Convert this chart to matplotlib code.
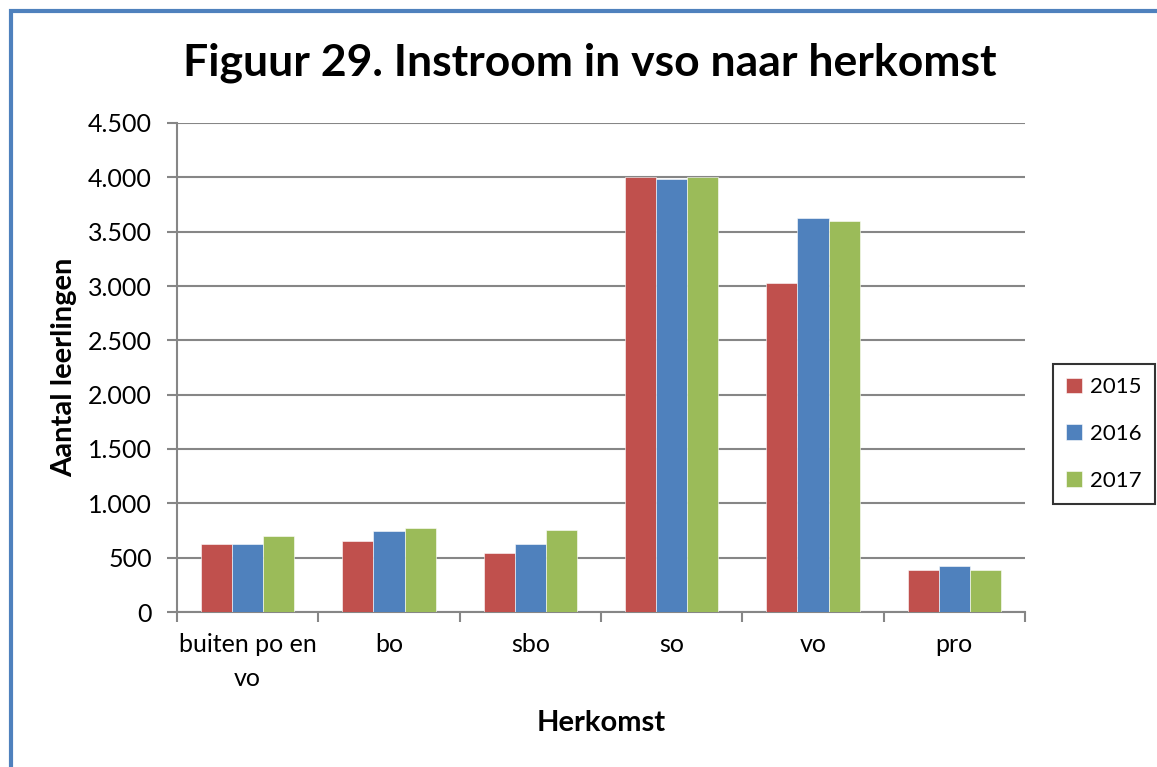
import numpy as np
import matplotlib.pyplot as plt
from matplotlib.patches import Rectangle

# data
categories = ['buiten po en\nvo', 'bo', 'sbo', 'so', 'vo', 'pro']
years = ['2015', '2016', '2017']
v2015 = [626, 653, 543, 4003, 3030, 389]
v2016 = [628, 745, 623, 3985, 3622, 420]
v2017 = [699, 776, 754, 4000, 3597, 390]
colors = ['#C0504D', '#4F81BD', '#9BBB59']

plt.rcParams['font.family'] = ['Lato', 'DejaVu Sans']

fig = plt.figure(figsize=(11.57, 7.67), dpi=100)
ax = fig.add_axes([177 / 1157, 1 - 612 / 767, 848 / 1157, 489 / 767])

# blue frame (only top and left edges visible)
fig.patches.append(Rectangle((11 / 1157, -0.1), 1.2, 1 - 11 / 767 + 0.1,
                             transform=fig.transFigure, fill=False,
                             edgecolor='#4F81BD', linewidth=3))

x = np.arange(len(categories))
w = 0.22
for i, (vals, yr) in enumerate(zip([v2015, v2016, v2017], years)):
    ax.bar(x + (i - 1) * w, vals, width=w, color=colors[i], label=yr,
           edgecolor='white', linewidth=0.4, zorder=3)

ax.set_xlim(-0.5, len(categories) - 0.5)
ax.set_ylim(0, 4500)
ax.set_yticks(np.arange(0, 4501, 500))
ax.set_yticklabels([f'{v:,}'.replace(',', '.') for v in range(0, 4501, 500)])
ax.set_xticks(x)
ax.set_xticklabels(categories, linespacing=1.6)
ax.set_xticks(np.arange(-0.5, len(categories), 1), minor=True)
ax.tick_params(axis='x', which='major', length=0, labelsize=18, pad=15)
ax.tick_params(axis='x', which='minor', length=7, width=1.5, color='#868686')
ax.tick_params(axis='y', length=7, width=1.5, color='#868686', labelsize=18, pad=11)
ax.grid(axis='y', color='#868686', linewidth=1.5, zorder=0)
for s in ['top', 'right']:
    ax.spines[s].set_visible(False)
for s in ['left', 'bottom']:
    ax.spines[s].set_color('#868686')
    ax.spines[s].set_linewidth(1.5)

ax.set_ylabel('Aantal leerlingen', fontsize=21, fontweight='bold', labelpad=8)
ax.set_xlabel('Herkomst', fontsize=21, fontweight='bold', labelpad=14)
fig.text(590 / 1157, 1 - 63 / 767, 'Figuur 29. Instroom in vso naar herkomst',
         fontsize=32, fontweight='bold', ha='center', va='center')

leg = ax.legend(loc='center left', bbox_to_anchor=((1053 - 177) / 848, (612 - 434) / 489),
                fontsize=16, frameon=True, fancybox=False, edgecolor='black',
                handlelength=0.7, handleheight=0.7, labelspacing=1.2, borderpad=0.6,
                handletextpad=0.35, borderaxespad=0)
leg.get_frame().set_linewidth(1.5)

plt.savefig('out.png', dpi=100)
